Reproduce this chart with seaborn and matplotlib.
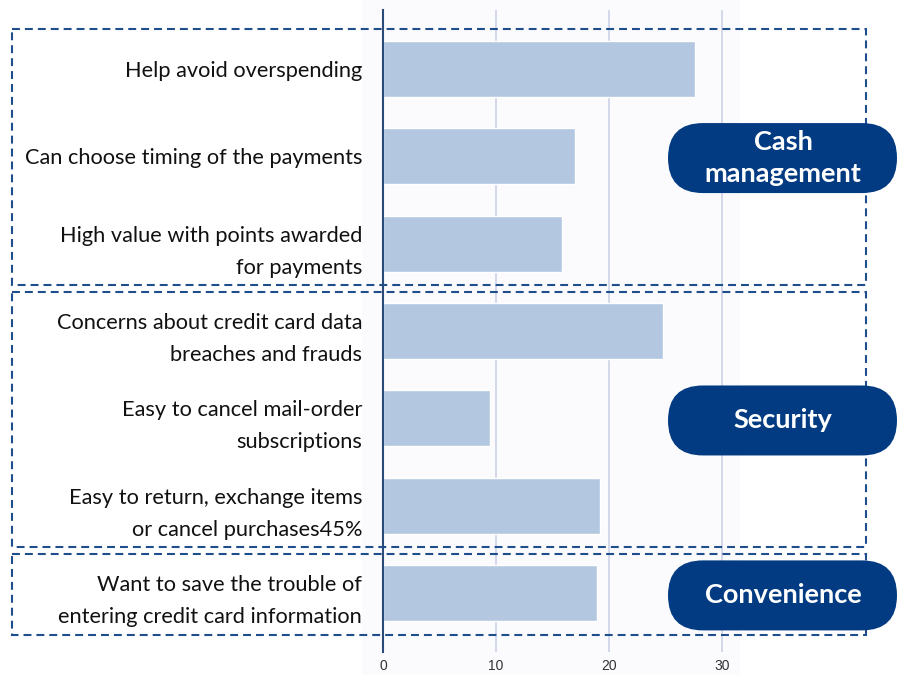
import matplotlib
matplotlib.use("Agg")
import matplotlib.pyplot as plt
import matplotlib.patches as mpatches
import pandas as pd
import seaborn as sns

# data
reasons = [
    "Help avoid overspending",
    "Can choose timing of the payments",
    "High value with points awarded\nfor payments",
    "Concerns about credit card data\nbreaches and frauds",
    "Easy to cancel mail-order\nsubscriptions",
    "Easy to return, exchange items\nor cancel purchases45%",
    "Want to save the trouble of\nentering credit card information",
]
shares = [27.6, 17.0, 15.8, 24.8, 9.5, 19.2, 18.9]
groups = ["Cash\nmanagement"] * 3 + ["Security"] * 3 + ["Convenience"]
x_ticks = [0, 10, 20, 30]

W, H = 897, 675
BAR = "#b3c7e1"
NAVY = "#023b82"
DASH = "#1f4e8c"

sns.set_theme(style="white")
plt.rcParams["font.family"] = ["Lato", "DejaVu Sans"]

df = pd.DataFrame({"reason": reasons, "share": shares, "group": groups})

fig = plt.figure(figsize=(W / 100, H / 100), dpi=100)
fig.patch.set_facecolor("white")
# faint panel behind the chart image
fig.patches.append(mpatches.Rectangle((362 / W, 0), (740 - 362) / W, 1,
                                      transform=fig.transFigure,
                                      facecolor="#fbfbfd", edgecolor="none", zorder=-1))

ax = fig.add_axes([383 / W, 1 - 652 / H, (740 - 383) / W, 642 / H])
ax.set_facecolor("none")
sns.barplot(data=df, y="reason", x="share", color=BAR, saturation=1,
            width=0.64, ax=ax, zorder=2)
ax.set_xlim(0, 31.6)
ax.set_ylim(6.67, -0.67)
ax.set_xticks(x_ticks)
ax.set_xticklabels([str(t) for t in x_ticks], fontfamily="Liberation Sans",
                   fontsize=10, color="#333333")
ax.set_yticks(range(len(reasons)))
ax.set_yticklabels(reasons, fontsize=15.7, color="#111111")
ax.set_xlabel("")
ax.set_ylabel("")
ax.xaxis.grid(True, color="#cbd3e8", lw=1.2)
ax.set_axisbelow(True)
for s in ["top", "right", "bottom"]:
    ax.spines[s].set_visible(False)
ax.spines["left"].set_color("#2c4a7c")
ax.spines["left"].set_linewidth(1.5)
ax.tick_params(axis="x", length=0, pad=5)
ax.tick_params(axis="y", length=0, pad=15)
for lab in ax.yaxis.get_ticklabels():
    lab.set_linespacing(1.75)

# overlay in pixel units for group boxes and pills
ov = fig.add_axes([0, 0, 1, 1], zorder=5)
ov.set_xlim(0, W)
ov.set_ylim(H, 0)
ov.axis("off")
ov.patch.set_alpha(0)


def ypx(v):
    return H - ax.transData.transform((0, v))[1]


for g in dict.fromkeys(groups):
    idx = [i for i, gg in enumerate(groups) if gg == g]
    top = ypx(idx[0] - 0.45)
    bot = ypx(idx[-1] + 0.47)
    ov.add_patch(mpatches.Rectangle((12, top), 866 - 12, bot - top, fill=False,
                                    edgecolor=DASH, lw=1.5,
                                    linestyle=(0, (3.8, 2.4)), zorder=3))
    cy = ypx(sum(idx) / len(idx)) + 2
    ov.add_patch(mpatches.FancyBboxPatch((668, cy - 35), 897 - 668, 70,
                                         boxstyle="round,pad=0,rounding_size=35",
                                         facecolor=NAVY, edgecolor="none", zorder=4))
    ov.text(783, cy, g, ha="center", va="center", color="white",
            fontsize=19.5, fontweight="bold", linespacing=1.4, zorder=6)

fig.savefig("out.png", dpi=100)
